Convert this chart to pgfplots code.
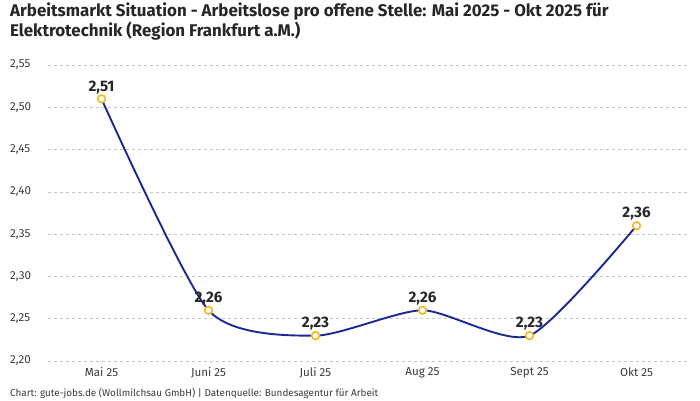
\documentclass[border=0pt]{standalone}
\usepackage{fontspec}
\setmainfont{Fira Sans}
\usepackage{pgfplots}
\pgfplotsset{compat=1.18}
\definecolor{linieblau}{HTML}{1A2A90}
\definecolor{punktgelb}{HTML}{F6B81C}
\definecolor{tickgrau}{HTML}{3A3A3A}
\definecolor{titelgrau}{HTML}{262626}
\begin{document}
\begin{tikzpicture}[x=1pt,y=1pt]
\useasboundingbox (0,0) rectangle (700,400);
\node[anchor=north west,align=left,font=\fontsize{16.9}{18}\selectfont\bfseries,text=titelgrau,inner sep=0pt] at (10,397) {Arbeitsmarkt Situation - Arbeitslose pro offene Stelle: Mai 2025 - Okt 2025 für\\Elektrotechnik (Region Frankfurt a.M.)};
\begin{axis}[
  at={(48pt,39pt)}, anchor=south west,
  scale only axis,
  width=642pt, height=296pt,
  xmin=-0.5, xmax=5.5,
  ymin=2.20, ymax=2.55,
  xtick={0,1,2,3,4,5},
  xticklabels={Mai 25,Juni 25,Juli 25,Aug 25,Sept 25,Okt 25},
  ytick={2.20,2.25,2.30,2.35,2.40,2.45,2.50,2.55},
  yticklabel style={/pgf/number format/fixed,/pgf/number format/fixed zerofill,/pgf/number format/precision=2,/pgf/number format/use comma,anchor=west,inner sep=0pt,xshift=-38pt},
  /pgf/number format/assume math mode=true,
  tick label style={font=\fontsize{11.6}{13}\selectfont,text=tickgrau},
  axis line style={draw=none},
  major tick length=0pt,
  ymajorgrids,
  grid style={dashed,gray!45,line width=0.6pt},
  xticklabel style={yshift=-3pt},
  clip=false,
]
\addplot[linieblau,line width=1.9pt,smooth,tension=0.4,
  mark=*,mark size=3.8pt,
  mark options={draw=punktgelb,fill=white,line width=1.6pt},
  nodes near coords,
  every node near coord/.append style={/pgf/number format/fixed,/pgf/number format/fixed zerofill,/pgf/number format/precision=2,/pgf/number format/use comma,font=\fontsize{15.2}{17}\selectfont\bfseries,text=titelgrau,yshift=1pt},
] coordinates {
  (0,2.51) (1,2.26) (2,2.23) (3,2.26) (4,2.23) (5,2.36)
};
\end{axis}
\node[anchor=west,font=\fontsize{9.9}{11}\selectfont,text=tickgrau,inner sep=0pt] at (10,7) {Chart: gute-jobs.de (Wollmilchsau GmbH) | Datenquelle: Bundesagentur für Arbeit};
\end{tikzpicture}
\end{document}
